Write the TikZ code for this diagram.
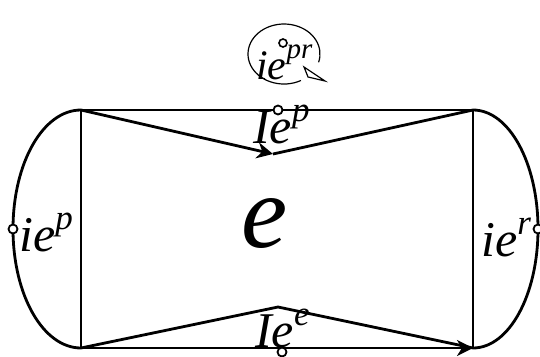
\documentclass[tikz,border=0pt]{standalone}
\usepackage{fontspec}
\setmainfont{Liberation Serif}
\usetikzlibrary{arrows.meta,calc}
\newcommand{\lbl}[5]{{\fontsize{#1}{#1}\selectfont\itshape #2\raisebox{#4pt}{\fontsize{#3}{#3}\selectfont #5}}}
\begin{document}
\begin{tikzpicture}[x=1pt,y=-1pt,
  mainline/.style={line width=2.8pt,line join=round},
  thinline/.style={line width=1.2pt},
  tip/.style={-{Stealth[length=16pt,width=16pt,inset=5pt]}},
  dot/.style={circle,draw,fill=white,line width=1.8pt,inner sep=0pt,minimum size=9pt},
  smalldot/.style={circle,draw,fill=white,line width=1.6pt,inner sep=0pt,minimum size=8pt},
  txt/.style={anchor=base west,inner sep=0pt}]
\useasboundingbox (0,0) rectangle (540,356);
\coordinate (tl) at (81,110);
\coordinate (tr) at (473,110);
\coordinate (bl) at (81,348);
\coordinate (br) at (473,348);
\coordinate (vt) at (273,154);
\coordinate (vb) at (278,307);
\coordinate (lm) at (13,229);
\coordinate (rm) at (538,229);
% rectangle sides
\draw[mainline] (tl) -- (tr);
\draw[mainline] (tl) -- (bl);
\draw[mainline] (tr) -- (br);
\draw[mainline,tip] (bl) -- (br);
% V shapes
\draw[mainline,tip] (tl) -- (vt);
\draw[mainline] (vt) -- (tr);
\draw[mainline] (bl) -- (vb) -- (br);
% side arcs
\draw[mainline] (tl) .. controls (43,110) and (13,163) .. (lm) .. controls (13,295) and (43,348) .. (bl);
\draw[mainline] (tr) .. controls (509,110) and (538,163) .. (rm) .. controls (538,295) and (509,348) .. (br);
% loop
\coordinate (lc) at (284,54);
\coordinate (ls) at (300.9,80.5);
\draw[thinline] (ls) arc[start angle=62,end angle=376,x radius=36,y radius=30];
\coordinate (ta) at (304,67);
\coordinate (tb) at (308,77);
\coordinate (tc) at (325,81);
\draw[thinline,fill=white,line join=miter] (ta) -- (tb) -- (tc) -- cycle;
% labels
\node[txt] (cen) at (241,247) {{\fontsize{104}{104}\selectfont\itshape e}};
\node[txt] (ll) at (19,251) {\lbl{50}{ie}{35}{22}{p}};
\node[txt] (rl) at (481,256) {\lbl{50}{ie}{35}{22}{r}};
\node[txt] (tlab) at (253,143) {\lbl{50}{Ie}{35}{22}{p}};
\node[txt] (blab) at (255,347) {\lbl{50}{Ie}{35}{22}{e}};
\node[txt] (loop) at (256,79) {\lbl{42}{ie}{29}{21}{pr}};
% small circles
\node[dot] (ct) at (278,110) {};
\node[dot] (cb) at (282,352) {};
\node[dot] (cl) at (lm) {};
\node[dot] (cr) at (rm) {};
\node[smalldot] (cp) at (283,43) {};
\end{tikzpicture}
\end{document}
